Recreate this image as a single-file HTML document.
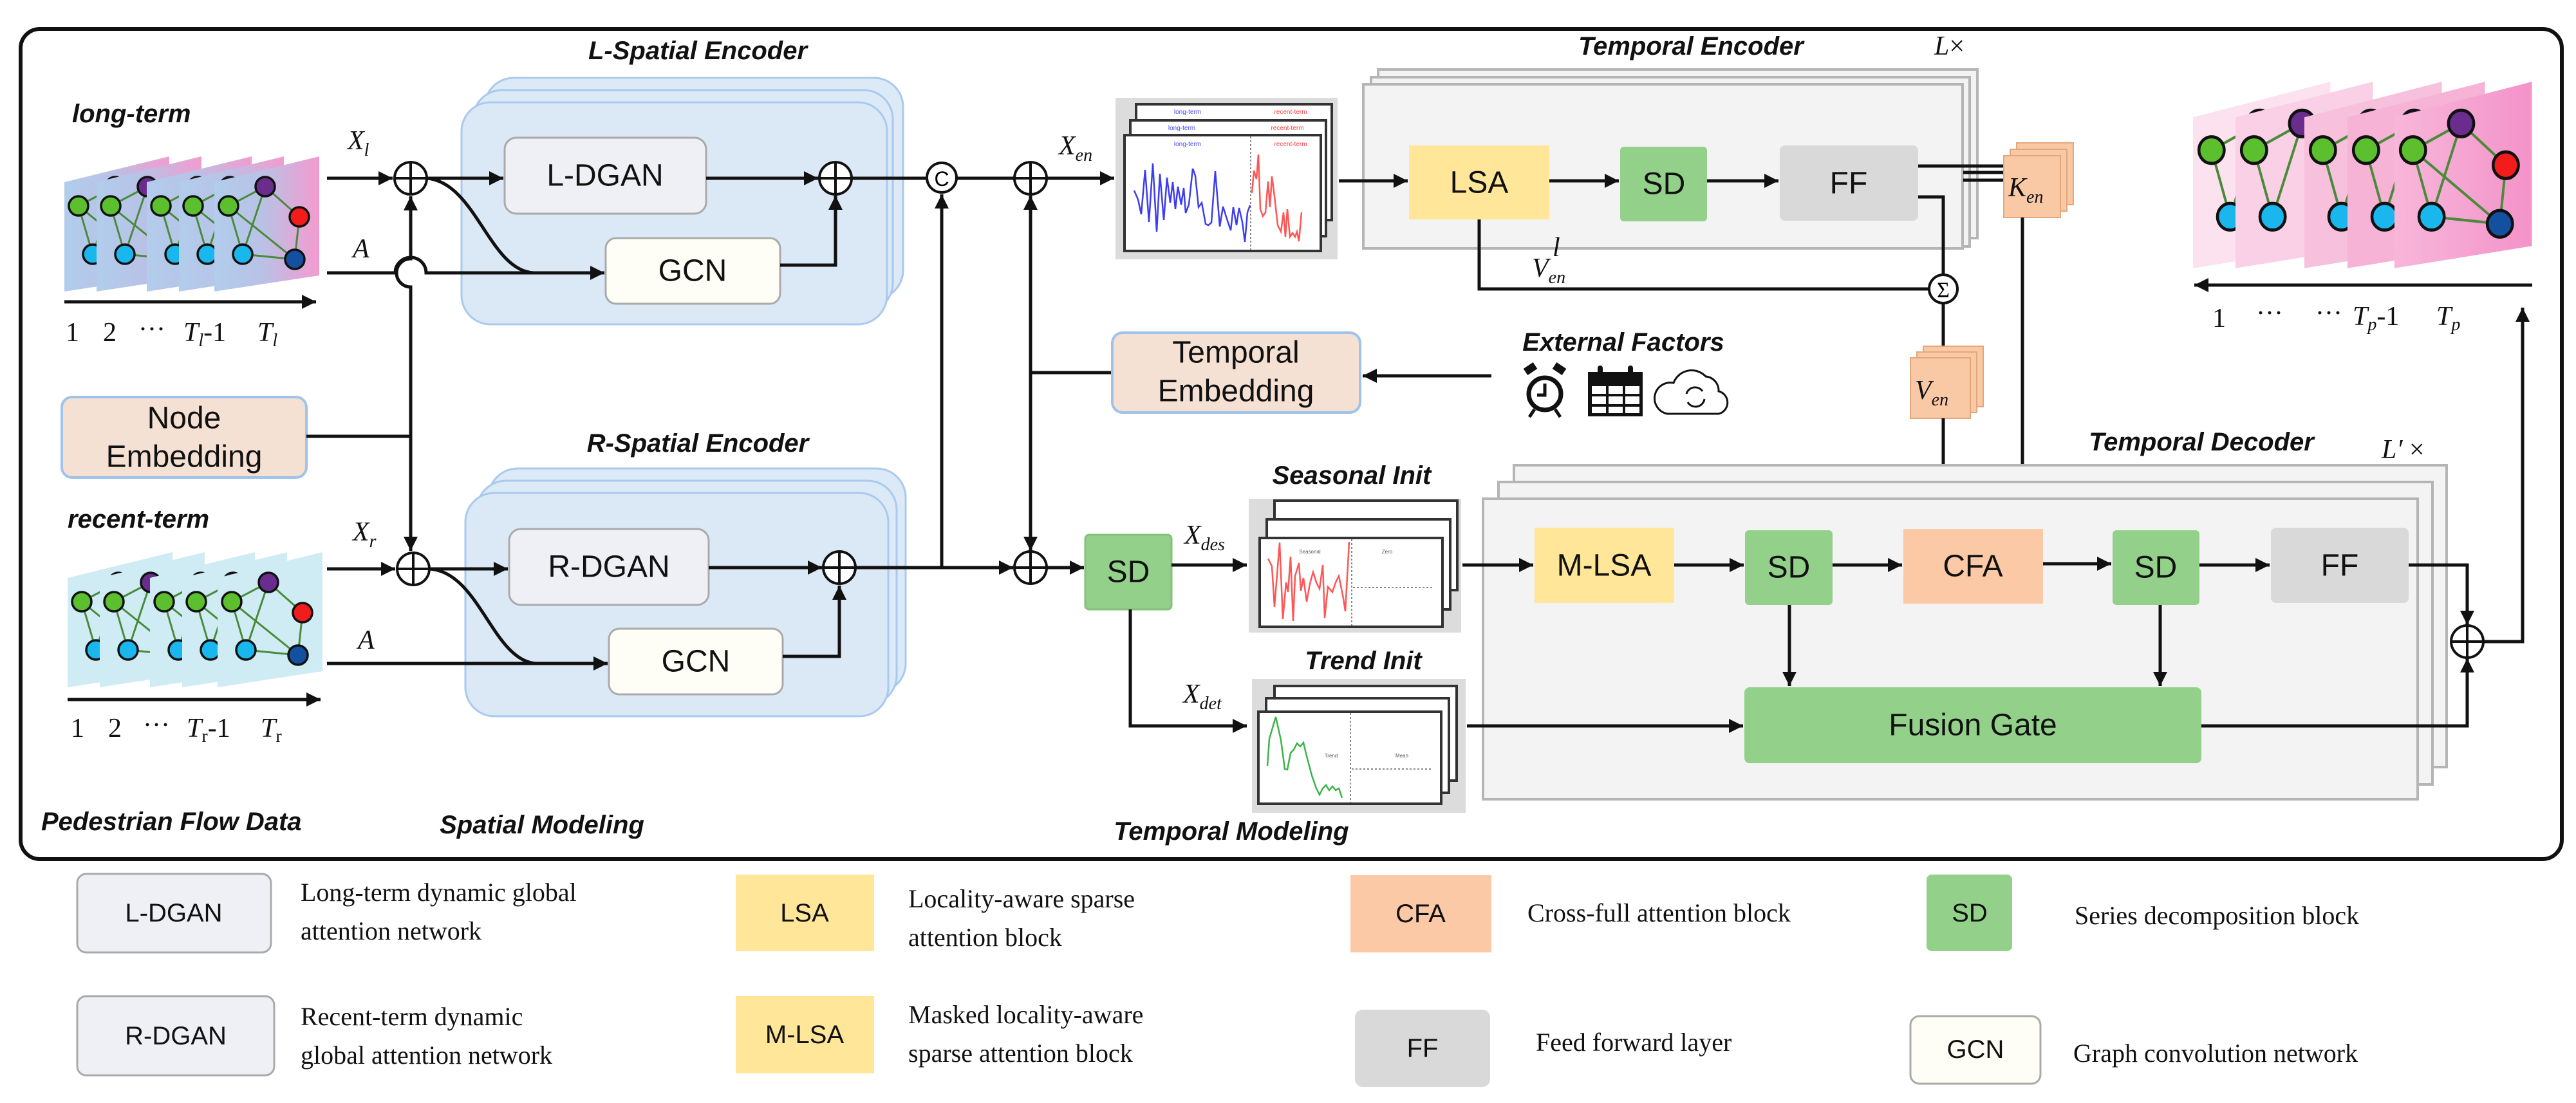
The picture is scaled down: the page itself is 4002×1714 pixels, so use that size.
<!DOCTYPE html>
<html><head><meta charset="utf-8"><style>
html,body{margin:0;padding:0;background:#fff;}
svg{display:block;}
.b{font-family:"Liberation Sans",sans-serif;font-size:48px;fill:#111;text-anchor:middle;dominant-baseline:central;}
.t{font-family:"Liberation Sans",sans-serif;font-size:40px;font-weight:bold;font-style:italic;fill:#111;}
.m{font-family:"Liberation Serif",serif;font-size:42px;font-style:italic;fill:#111;}
.n{font-family:"Liberation Serif",serif;font-size:42px;fill:#111;}
.lg{font-family:"Liberation Serif",serif;font-size:40px;fill:#111;}
.lb{font-family:"Liberation Sans",sans-serif;font-size:40px;fill:#111;text-anchor:middle;dominant-baseline:central;}
.ln{stroke:#111;stroke-width:5;fill:none;}
</style></head><body>
<svg width="4002" height="1714" viewBox="0 0 4002 1714" xmlns="http://www.w3.org/2000/svg">
<defs>
<marker id="a" viewBox="0 0 10 10" refX="10" refY="5" markerUnits="userSpaceOnUse" markerWidth="24" markerHeight="22" orient="auto"><path d="M0,0L10,5L0,10z" fill="#111"/></marker>
<linearGradient id="gl" x1="0" x2="1" y1="0" y2="0"><stop offset="0" stop-color="#b2cdec"/><stop offset="0.45" stop-color="#b8c2e6"/><stop offset="1" stop-color="#f39bcf"/></linearGradient>
<linearGradient id="gp" x1="0" x2="1"><stop offset="0" stop-color="#f8b6da"/><stop offset="1" stop-color="#f393c9"/></linearGradient>
<g id="nodes">
<path d="M22,77L79,47M22,77L44,152M22,77L125,160M79,47L44,152M79,47L132,94M132,94L125,160M44,152L125,160" stroke="#4a8a3a" stroke-width="3"/>
<circle cx="22" cy="77" r="15" fill="#5cc02e" stroke="#111" stroke-width="3.5"/>
<circle cx="79" cy="47" r="15" fill="#6a2d8e" stroke="#111" stroke-width="3.5"/>
<circle cx="132" cy="94" r="15" fill="#f21c1c" stroke="#111" stroke-width="3.5"/>
<circle cx="44" cy="152" r="15" fill="#1ab7ef" stroke="#111" stroke-width="3.5"/>
<circle cx="125" cy="160" r="15" fill="#1450a0" stroke="#111" stroke-width="3.5"/>
</g>
<g id="nodes2">
<path d="M22,77L79,47M22,77L44,152M79,47L44,152" stroke="#4a8a3a" stroke-width="3"/>
<circle cx="22" cy="77" r="15" fill="#5cc02e" stroke="#111" stroke-width="3.5"/>
<circle cx="79" cy="47" r="15" fill="#6a2d8e" stroke="#111" stroke-width="3.5"/>
<circle cx="44" cy="152" r="15" fill="#1ab7ef" stroke="#111" stroke-width="3.5"/>
</g>
<g id="fl"><polygon points="0,40 163,0 163,185 0,210" fill="url(#gl)"/><use href="#nodes"/></g>
<g id="fr"><polygon points="0,40 163,0 163,185 0,210" fill="#cfecf5"/><use href="#nodes"/></g>
<g id="plus"><circle r="25" fill="#fff" stroke="#111" stroke-width="4"/><path d="M-25,0H25M0,-25V25" stroke="#111" stroke-width="4"/></g>
</defs>

<rect x="32" y="45" width="3948" height="1290" rx="30" fill="none" stroke="#111" stroke-width="6"/>

<!-- Left inputs -->
<text class="t" x="112" y="190">long-term</text>
<use href="#fl" x="100" y="243"/><use href="#fl" x="150" y="243"/><use href="#fl" x="228" y="243"/><use href="#fl" x="278" y="243"/><use href="#fl" x="333" y="243"/>
<path class="ln" d="M100,469L491,469" marker-end="url(#a)"/>
<text class="n" x="102" y="530">1</text><text class="n" x="160" y="530">2</text><text class="n" x="215" y="525">···</text>
<text class="m" x="285" y="530">T<tspan font-size="28" dy="8">l</tspan><tspan font-style="normal" dy="-8">-1</tspan></text>
<text class="m" x="400" y="530">T<tspan font-size="28" dy="8">l</tspan></text>

<text class="t" x="105" y="820">recent-term</text>
<use href="#fr" x="105" y="858"/><use href="#fr" x="155" y="858"/><use href="#fr" x="233" y="858"/><use href="#fr" x="283" y="858"/><use href="#fr" x="338" y="858"/>
<path class="ln" d="M105,1087L498,1087" marker-end="url(#a)"/>
<text class="n" x="110" y="1145">1</text><text class="n" x="168" y="1145">2</text><text class="n" x="222" y="1140">···</text>
<text class="m" x="290" y="1145">T<tspan font-size="28" font-style="normal" dy="8">r</tspan><tspan font-style="normal" dy="-8">-1</tspan></text>
<text class="m" x="405" y="1145">T<tspan font-size="28" font-style="normal" dy="8">r</tspan></text>

<rect x="96" y="617" width="380" height="125" rx="16" fill="#f4e1d3" stroke="#9fc3ea" stroke-width="4"/>
<text class="b" x="286" y="650">Node</text><text class="b" x="286" y="710">Embedding</text>

<!-- Spatial encoders -->
<text class="t" x="1084" y="92" text-anchor="middle">L-Spatial Encoder</text>
<rect x="753" y="121" width="650" height="344" rx="45" fill="#dce9f7" stroke="#a9c9ee" stroke-width="3"/>
<rect x="735" y="140" width="652" height="345" rx="45" fill="#dce9f7" stroke="#a9c9ee" stroke-width="3"/>
<rect x="717" y="159" width="661" height="345" rx="45" fill="#dbe8f6" stroke="#a9c9ee" stroke-width="3"/>
<rect x="784" y="214" width="313" height="118" rx="18" fill="#eef0f5" stroke="#aaa" stroke-width="3"/>
<text class="b" x="940" y="273">L-DGAN</text>
<rect x="941" y="370" width="271" height="102" rx="16" fill="#fefef6" stroke="#aaa" stroke-width="3"/>
<text class="b" x="1076" y="421">GCN</text>

<text class="t" x="1084" y="702" text-anchor="middle">R-Spatial Encoder</text>
<rect x="759" y="728" width="648" height="348" rx="45" fill="#dce9f7" stroke="#a9c9ee" stroke-width="3"/>
<rect x="741" y="747" width="652" height="348" rx="45" fill="#dce9f7" stroke="#a9c9ee" stroke-width="3"/>
<rect x="723" y="766" width="657" height="347" rx="45" fill="#dbe8f6" stroke="#a9c9ee" stroke-width="3"/>
<rect x="791" y="822" width="310" height="118" rx="18" fill="#eef0f5" stroke="#aaa" stroke-width="3"/>
<text class="b" x="946" y="881">R-DGAN</text>
<rect x="946" y="977" width="270" height="102" rx="16" fill="#fefef6" stroke="#aaa" stroke-width="3"/>
<text class="b" x="1081" y="1028">GCN</text>

<!-- connectors spatial -->
<path class="ln" d="M508,277L610,277" marker-end="url(#a)"/>
<text class="m" x="540" y="232">X<tspan font-size="28" dy="10">l</tspan></text>
<path class="ln" d="M508,424L614,424A24,24 0 0 1 662,424L939,424" marker-end="url(#a)"/>
<text class="m" x="548" y="400">A</text>
<path class="ln" d="M638,678L638,446A22,22 0 0 1 638,402L638,305" marker-end="url(#a)"/>
<path class="ln" d="M638,678L638,856" marker-end="url(#a)"/>
<path class="ln" d="M476,678L638,678"/>
<path class="ln" d="M664,277L782,277" marker-end="url(#a)"/>
<path class="ln" d="M664,277C740,285 760,420 829,424"/>
<path class="ln" d="M1097,277L1271,277" marker-end="url(#a)"/>
<path class="ln" d="M1212,412L1298,412L1298,304" marker-end="url(#a)"/>
<path class="ln" d="M1324,277L1439,277M1487,277L1575,277"/>
<path class="ln" d="M1627,277L1731,277" marker-end="url(#a)"/>
<text class="m" x="1645" y="240">X<tspan font-size="28" dy="10">en</tspan></text>
<use href="#plus" x="638" y="277"/><use href="#plus" x="1298" y="277"/><use href="#plus" x="1601" y="277"/>
<circle cx="1463" cy="276" r="23" fill="#fff" stroke="#111" stroke-width="4"/>
<text x="1463" y="278" font-family="Liberation Sans" font-size="32" text-anchor="middle" dominant-baseline="central">C</text>

<path class="ln" d="M508,884L614,884" marker-end="url(#a)"/>
<text class="m" x="548" y="840">X<tspan font-size="28" dy="10">r</tspan></text>
<path class="ln" d="M508,1031L944,1031" marker-end="url(#a)"/>
<text class="m" x="556" y="1008">A</text>
<path class="ln" d="M668,884L789,884" marker-end="url(#a)"/>
<path class="ln" d="M668,884C745,890 765,1025 832,1031"/>
<path class="ln" d="M1101,882L1277,882" marker-end="url(#a)"/>
<path class="ln" d="M1216,1020L1304,1020L1304,910" marker-end="url(#a)"/>
<path class="ln" d="M1330,882L1574,882" marker-end="url(#a)"/>
<path class="ln" d="M1463,882L1463,302" marker-end="url(#a)"/>
<path class="ln" d="M1601,579L1601,304" marker-end="url(#a)"/>
<path class="ln" d="M1601,579L1601,856" marker-end="url(#a)"/>
<path class="ln" d="M1728,579L1601,579"/>
<path class="ln" d="M1627,882L1684,882" marker-end="url(#a)"/>
<use href="#plus" x="642" y="884"/><use href="#plus" x="1304" y="882"/><use href="#plus" x="1601" y="882"/>

<rect x="1686" y="831" width="134" height="116" rx="6" fill="#93d18a" stroke="#85c07c" stroke-width="3"/>
<text class="b" x="1753" y="889">SD</text>
<path class="ln" d="M1820,878L1937,878" marker-end="url(#a)"/>
<text class="m" x="1840" y="845">X<tspan font-size="28" dy="10">des</tspan></text>
<path class="ln" d="M1756,947L1756,1128L1937,1128" marker-end="url(#a)"/>
<text class="m" x="1838" y="1092">X<tspan font-size="28" dy="10">det</tspan></text>

<rect x="1728" y="517" width="385" height="124" rx="16" fill="#f4e1d3" stroke="#9fc3ea" stroke-width="4"/>
<text class="b" x="1920" y="548">Temporal</text><text class="b" x="1920" y="608">Embedding</text>

<text class="t" x="64" y="1290">Pedestrian Flow Data</text>
<text class="t" x="842" y="1295" text-anchor="middle">Spatial Modeling</text>
<text class="t" x="1913" y="1305" text-anchor="middle">Temporal Modeling</text>

<!-- X_en chart -->
<rect x="1733" y="152" width="345" height="251" fill="#dcdcdc"/>
<rect x="1765" y="162" width="304" height="180" fill="#fff" stroke="#333" stroke-width="4"/>
<rect x="1756" y="187" width="304" height="180" fill="#fff" stroke="#333" stroke-width="4"/>
<rect x="1747" y="210" width="305" height="180" fill="#fff" stroke="#333" stroke-width="4"/>
<line x1="1943" y1="212" x2="1943" y2="388" stroke="#888" stroke-width="2" stroke-dasharray="3,3"/>
<text x="1845" y="177" font-family="Liberation Sans" font-size="10" fill="#4a4aff" text-anchor="middle">long-term</text>
<text x="1836" y="202" font-family="Liberation Sans" font-size="10" fill="#4a4aff" text-anchor="middle">long-term</text>
<text x="1845" y="227" font-family="Liberation Sans" font-size="10" fill="#4a4aff" text-anchor="middle">long-term</text>
<text x="2005" y="177" font-family="Liberation Sans" font-size="10" fill="#f44" text-anchor="middle">recent-term</text>
<text x="2000" y="202" font-family="Liberation Sans" font-size="10" fill="#f44" text-anchor="middle">recent-term</text>
<text x="2005" y="227" font-family="Liberation Sans" font-size="10" fill="#f44" text-anchor="middle">recent-term</text>
<polyline fill="none" stroke="#3c3cf0" stroke-width="2.5" points="1762,296 1768,310 1773,333 1779,264 1785,345 1791,254 1797,360 1802,270 1808,342 1813,276 1818,315 1822,283 1826,325 1830,290 1835,318 1839,292 1842,331 1847,318 1853,262 1857,273 1862,322 1867,315 1873,348 1877,350 1882,346 1888,266 1895,352 1900,321 1906,340 1912,358 1916,322 1921,350 1925,323 1930,345 1934,376 1938,330 1942,319"/>
<polyline fill="none" stroke="#f55" stroke-width="2.5" points="1945,300 1948,265 1952,278 1955,240 1958,325 1962,336 1966,330 1970,282 1973,322 1976,274 1980,305 1985,350 1990,360 1994,330 1997,368 2000,325 2004,368 2008,362 2012,368 2015,360 2018,375 2022,330"/>

<!-- Temporal Encoder -->
<text class="t" x="2627" y="85" text-anchor="middle">Temporal Encoder</text>
<text class="m" x="3005" y="85">L<tspan font-style="normal">×</tspan></text>
<rect x="2141" y="108" width="931" height="262" fill="#f3f3f4" stroke="#b5b5b5" stroke-width="4"/>
<rect x="2130" y="120" width="930" height="263" fill="#f3f3f4" stroke="#b5b5b5" stroke-width="4"/>
<rect x="2118" y="131" width="931" height="255" fill="#f3f3f4" stroke="#b5b5b5" stroke-width="4"/>
<rect x="2189" y="226" width="218" height="115" fill="#ffe699"/><text class="b" x="2298" y="284">LSA</text>
<rect x="2517" y="228" width="135" height="116" rx="6" fill="#93d18a"/><text class="b" x="2585" y="286">SD</text>
<rect x="2765" y="226" width="215" height="117" rx="8" fill="#d9d9d9"/><text class="b" x="2872" y="285">FF</text>
<path class="ln" d="M2080,281L2187,281" marker-end="url(#a)"/>
<path class="ln" d="M2407,281L2515,281" marker-end="url(#a)"/>
<path class="ln" d="M2652,281L2763,281" marker-end="url(#a)"/>
<path class="ln" d="M2980,258L3113,258M3050,268L3113,268M3050,280L3113,280" stroke-width="4"/>
<path class="ln" d="M2980,306L3019,306L3019,427"/>
<path class="ln" d="M2298,341L2298,449L2997,449"/>
<text class="m" x="2380" y="430">V<tspan font-size="28" dy="10">en</tspan></text>
<text class="m" x="2412" y="398" font-size="28">l</text>
<circle cx="3019" cy="449" r="22" fill="#fff" stroke="#111" stroke-width="4"/>
<text x="3019" y="451" font-family="Liberation Serif" font-size="34" text-anchor="middle" dominant-baseline="central">Σ</text>
<path class="ln" d="M3019,471L3019,556"/>
<rect x="3133" y="222" width="88" height="96" fill="#f9c9a5" stroke="#e4a77c" stroke-width="2"/>
<rect x="3123" y="232" width="88" height="96" fill="#f9c9a5" stroke="#e4a77c" stroke-width="2"/>
<rect x="3113" y="242" width="88" height="96" fill="#f9c9a5" stroke="#e4a77c" stroke-width="2"/>
<text class="m" x="3120" y="305">K<tspan font-size="28" dy="10">en</tspan></text>
<rect x="2988" y="538" width="93" height="94" fill="#f9c9a5" stroke="#e4a77c" stroke-width="2"/>
<rect x="2978" y="547" width="93" height="94" fill="#f9c9a5" stroke="#e4a77c" stroke-width="2"/>
<rect x="2968" y="556" width="93" height="94" fill="#f9c9a5" stroke="#e4a77c" stroke-width="2"/>
<text class="m" x="2975" y="620">V<tspan font-size="28" dy="10">en</tspan></text>
<path class="ln" d="M3019,650L3019,812" marker-end="url(#a)"/>
<path class="ln" d="M3142,338L3142,812" marker-end="url(#a)"/>

<!-- External factors -->
<text class="t" x="2522" y="545" text-anchor="middle">External Factors</text>
<g stroke="#111" fill="none">
<circle cx="2400" cy="612" r="25" stroke-width="7"/>
<path d="M2400,596V614H2388" stroke-width="5"/>
<path d="M2370,578L2385,568M2430,578L2415,568" stroke-width="12"/>
<path d="M2384,636L2376,648M2416,636L2424,648" stroke-width="5"/>
</g>
<rect x="2467" y="578" width="85" height="69" fill="#111"/>
<g fill="#fff"><rect x="2473" y="600" width="22" height="12"/><rect x="2499" y="600" width="22" height="12"/><rect x="2525" y="600" width="22" height="12"/><rect x="2473" y="616" width="22" height="12"/><rect x="2499" y="616" width="22" height="12"/><rect x="2525" y="616" width="22" height="12"/><rect x="2473" y="632" width="22" height="10"/><rect x="2499" y="632" width="22" height="10"/><rect x="2525" y="632" width="22" height="10"/></g>
<rect x="2482" y="568" width="8" height="16" rx="4" fill="#111"/><rect x="2529" y="568" width="8" height="16" rx="4" fill="#111"/>
<path d="M2590,643H2670A18,18 0 0 0 2670,608A22,22 0 0 0 2650,585A30,30 0 0 0 2600,595A24,24 0 0 0 2590,643Z" fill="none" stroke="#111" stroke-width="3"/>
<path d="M2620,612A14,14 0 0 1 2645,608M2648,620A14,14 0 0 1 2622,625" fill="none" stroke="#111" stroke-width="3"/>
<path class="ln" d="M2317,584L2117,584" marker-end="url(#a)"/>

<!-- Seasonal & trend charts -->
<text class="t" x="2100" y="752" text-anchor="middle">Seasonal Init</text>
<rect x="1940" y="775" width="330" height="208" fill="#dcdcdc"/>
<rect x="1980" y="778" width="284" height="139" fill="#fff" stroke="#333" stroke-width="4"/>
<rect x="1968" y="807" width="285" height="140" fill="#fff" stroke="#333" stroke-width="4"/>
<rect x="1957" y="836" width="284" height="138" fill="#fff" stroke="#333" stroke-width="4"/>
<line x1="2100" y1="838" x2="2100" y2="972" stroke="#888" stroke-width="2" stroke-dasharray="3,3"/>
<line x1="2102" y1="913" x2="2228" y2="913" stroke="#888" stroke-width="2" stroke-dasharray="3,3"/>
<text x="2035" y="860" font-family="Liberation Sans" font-size="8" fill="#555" text-anchor="middle">Seasonal</text>
<text x="2155" y="860" font-family="Liberation Sans" font-size="8" fill="#555" text-anchor="middle">Zero</text>
<polyline fill="none" stroke="#f55" stroke-width="2.5" points="1970,868 1976,880 1980,943 1988,843 1993,962 1998,905 2001,920 2005,865 2009,965 2012,895 2018,875 2021,918 2025,898 2030,935 2035,907 2040,889 2045,905 2050,915 2055,878 2058,960 2063,912 2070,920 2075,905 2080,895 2087,930 2090,950 2096,842"/>

<text class="t" x="2118" y="1040" text-anchor="middle">Trend Init</text>
<rect x="1945" y="1055" width="332" height="208" fill="#dcdcdc"/>
<rect x="1980" y="1066" width="283" height="147" fill="#fff" stroke="#333" stroke-width="4"/>
<rect x="1967" y="1085" width="284" height="147" fill="#fff" stroke="#333" stroke-width="4"/>
<rect x="1955" y="1106" width="284" height="143" fill="#fff" stroke="#333" stroke-width="4"/>
<line x1="2098" y1="1108" x2="2098" y2="1247" stroke="#888" stroke-width="2" stroke-dasharray="3,3"/>
<line x1="2100" y1="1195" x2="2225" y2="1195" stroke="#888" stroke-width="2" stroke-dasharray="3,3"/>
<text x="2068" y="1177" font-family="Liberation Sans" font-size="8" fill="#555" text-anchor="middle">Trend</text>
<text x="2178" y="1177" font-family="Liberation Sans" font-size="8" fill="#555" text-anchor="middle">Mean</text>
<polyline fill="none" stroke="#3cb34a" stroke-width="2.5" points="1969,1190 1972,1148 1982,1114 1990,1150 1996,1195 2000,1196 2005,1170 2010,1165 2015,1155 2020,1160 2025,1154 2030,1175 2038,1205 2045,1225 2050,1235 2055,1225 2060,1220 2065,1228 2070,1222 2075,1228 2080,1225 2085,1240"/>

<!-- Temporal decoder -->
<text class="t" x="3420" y="700" text-anchor="middle">Temporal Decoder</text>
<text class="m" x="3700" y="712">L′ <tspan font-style="normal">×</tspan></text>
<rect x="2352" y="723" width="1449" height="469" fill="#f3f3f4" stroke="#b5b5b5" stroke-width="4"/>
<rect x="2328" y="749" width="1451" height="470" fill="#f3f3f4" stroke="#b5b5b5" stroke-width="4"/>
<rect x="2304" y="775" width="1452" height="467" fill="#f3f3f4" stroke="#b5b5b5" stroke-width="4"/>
<rect x="2384" y="820" width="217" height="117" fill="#ffe699"/><text class="b" x="2492" y="879">M-LSA</text>
<rect x="2711" y="824" width="136" height="116" rx="6" fill="#93d18a"/><text class="b" x="2779" y="882">SD</text>
<rect x="2957" y="822" width="217" height="116" fill="#fbc9a6"/><text class="b" x="3065" y="880">CFA</text>
<rect x="3282" y="824" width="135" height="116" rx="6" fill="#93d18a"/><text class="b" x="3349" y="882">SD</text>
<rect x="3528" y="820" width="214" height="117" rx="8" fill="#d9d9d9"/><text class="b" x="3635" y="879">FF</text>
<rect x="2710" y="1068" width="710" height="118" rx="8" fill="#93d18a"/><text class="b" x="3065" y="1127">Fusion Gate</text>
<path class="ln" d="M2272,878L2382,878" marker-end="url(#a)"/>
<path class="ln" d="M2601,878L2709,878" marker-end="url(#a)"/>
<path class="ln" d="M2847,878L2955,878" marker-end="url(#a)"/>
<path class="ln" d="M3174,876L3280,876" marker-end="url(#a)"/>
<path class="ln" d="M3417,878L3526,878" marker-end="url(#a)"/>
<path class="ln" d="M2780,940L2780,1066" marker-end="url(#a)"/>
<path class="ln" d="M3356,940L3356,1066" marker-end="url(#a)"/>
<path class="ln" d="M2279,1128L2708,1128" marker-end="url(#a)"/>
<path class="ln" d="M3742,878L3833,878L3833,971" marker-end="url(#a)"/>
<path class="ln" d="M3420,1128L3833,1128L3833,1023" marker-end="url(#a)"/>
<path class="ln" d="M3859,997L3919,997L3919,478" marker-end="url(#a)"/>
<use href="#plus" x="3833" y="997"/>

<!-- output -->
<g transform="translate(3407,127) scale(1.31,1.38)"><polygon points="0,40 163,0 163,185 0,210" fill="#fce2ef"/><use href="#nodes2"/></g>
<g transform="translate(3473,127) scale(1.31,1.38)"><polygon points="0,40 163,0 163,185 0,210" fill="#f9d0e5"/><use href="#nodes2"/></g>
<g transform="translate(3580,127) scale(1.31,1.38)"><polygon points="0,40 163,0 163,185 0,210" fill="#f7c0dc"/><use href="#nodes2"/></g>
<g transform="translate(3647,127) scale(1.31,1.38)"><polygon points="0,40 163,0 163,185 0,210" fill="#f6b3d6"/><use href="#nodes2"/></g>
<g transform="translate(3720,127) scale(1.31,1.38)"><polygon points="0,40 163,0 163,185 0,210" fill="url(#gp)"/><use href="#nodes"/></g>
<path class="ln" d="M3934,443L3409,443" marker-end="url(#a)"/>
<text class="n" x="3437" y="508">1</text><text class="n" x="3505" y="500">···</text><text class="n" x="3597" y="500">···</text>
<text class="m" x="3655" y="505">T<tspan font-size="28" dy="8">p</tspan><tspan font-style="normal" dy="-8">-1</tspan></text>
<text class="m" x="3785" y="505">T<tspan font-size="28" dy="8">p</tspan></text>

<!-- Legend -->
<rect x="120" y="1358" width="301" height="122" rx="14" fill="#eef0f5" stroke="#aaa" stroke-width="3"/><text class="lb" x="270" y="1419">L-DGAN</text>
<text class="lg" x="467" y="1400">Long-term dynamic global</text><text class="lg" x="467" y="1460">attention network</text>
<rect x="1143" y="1359" width="215" height="119" fill="#ffe699"/><text class="lb" x="1250" y="1419">LSA</text>
<text class="lg" x="1411" y="1410">Locality-aware sparse</text><text class="lg" x="1411" y="1470">attention block</text>
<rect x="2098" y="1360" width="219" height="120" fill="#fbc9a6"/><text class="lb" x="2207" y="1420">CFA</text>
<text class="lg" x="2373" y="1432">Cross-full attention block</text>
<rect x="2993" y="1359" width="133" height="119" rx="8" fill="#93d18a"/><text class="lb" x="3060" y="1419">SD</text>
<text class="lg" x="3223" y="1436">Series decomposition block</text>

<rect x="120" y="1548" width="306" height="123" rx="14" fill="#eef0f5" stroke="#aaa" stroke-width="3"/><text class="lb" x="273" y="1610">R-DGAN</text>
<text class="lg" x="467" y="1593">Recent-term dynamic</text><text class="lg" x="467" y="1653">global attention network</text>
<rect x="1143" y="1548" width="215" height="120" fill="#ffe699"/><text class="lb" x="1250" y="1608">M-LSA</text>
<text class="lg" x="1411" y="1590">Masked locality-aware</text><text class="lg" x="1411" y="1650">sparse attention block</text>
<rect x="2105" y="1569" width="210" height="120" rx="12" fill="#d9d9d9"/><text class="lb" x="2210" y="1629">FF</text>
<text class="lg" x="2386" y="1633">Feed forward layer</text>
<rect x="2968" y="1579" width="202" height="105" rx="14" fill="#fefef6" stroke="#aaa" stroke-width="3"/><text class="lb" x="3069" y="1631">GCN</text>
<text class="lg" x="3221" y="1650">Graph convolution network</text>
</svg>
</body></html>
